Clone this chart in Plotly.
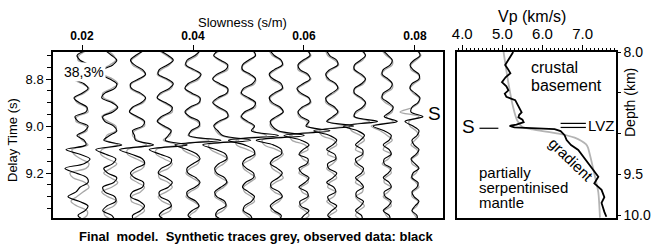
import plotly.graph_objects as go

# ---------------- data ----------------
slowness = [0.02, 0.025, 0.03, 0.035, 0.04, 0.045, 0.05, 0.055, 0.06, 0.065, 0.07, 0.075, 0.08]
delay_time = [8.68, 8.70, 8.72, 8.74, 8.76, 8.78, 8.80, 8.82, 8.84, 8.86, 8.88, 8.90, 8.92,
              8.94, 8.96, 8.98, 9.00, 9.02, 9.04, 9.06, 9.08, 9.10, 9.12, 9.14, 9.16, 9.18,
              9.20, 9.22, 9.24, 9.26, 9.28, 9.30, 9.32, 9.34, 9.36, 9.38, 9.40]

# trace amplitudes (observed = black, synthetic = grey)
observed_amp = [
    [3,-5,-2,6,3,-6,-7,2,6,0,-8,-3,5,4,-7,-4,6,3,-5,2,4,-16,-2,8,2,-17,-6,5,6,-2,-6,-14,-3,6,3,-4,2],
    [-4,2,7,3,-6,-8,0,7,5,-5,-8,2,8,3,-7,-5,4,7,0,-6,12,-14,-4,6,3,-6,-2,7,4,-7,-5,5,6,-3,-7,2,5],
    [6,-2,-7,-3,5,8,1,-7,-6,3,8,4,-5,-8,0,7,5,-5,-3,-2,16,-18,-6,5,7,-2,-7,-3,6,5,-5,-7,2,7,3,-5,-4],
    [-5,3,8,2,-6,-7,2,8,4,-5,-8,0,7,5,-4,-8,-1,6,3,0,22,-16,-5,6,5,-4,-7,1,7,3,-6,-5,4,6,-2,-6,1],
    [7,2,-6,-7,1,8,4,-5,-8,-1,7,6,-3,-8,-3,6,6,-2,-4,28,-18,-6,4,7,0,-6,-5,3,7,2,-6,-5,3,6,-1,-5,2],
    [-3,-7,0,7,5,-4,-8,-1,7,6,-3,-8,-2,6,7,-2,-7,-3,2,30,-18,-5,5,6,-2,-6,-4,4,6,0,-6,-4,4,5,-3,-5,2],
    [5,7,0,-6,-6,2,7,4,-5,-7,0,7,5,-4,-7,-1,6,3,30,-20,-4,5,6,-3,-6,-2,5,5,-3,-6,0,6,3,-4,-5,2,4],
    [-6,-2,5,6,-2,-7,-3,5,6,-2,-7,-4,4,7,0,-6,-4,2,28,-20,-3,5,5,-3,-6,1,6,2,-5,-5,3,6,-1,-6,-2,5,3],
    [4,6,-1,-6,-4,4,6,-1,-7,-3,5,6,-2,-6,-3,5,2,26,-20,-3,5,-1,-5,4,3,-5,-2,5,1,-5,3,4,-4,-3,5,0,-4],
    [-5,-2,5,6,-2,-6,-3,4,6,0,-6,-4,3,6,1,-5,22,-18,-2,5,1,-5,3,4,-4,-3,5,1,-5,2,4,-4,-2,5,0,-4,3],
    [3,6,1,-5,-5,2,6,2,-5,-5,2,6,3,-4,-5,18,-16,-2,5,1,-4,3,3,-4,-2,4,2,-4,1,4,-3,-3,4,1,-4,2,3],
    [-4,1,5,3,-4,-5,1,5,3,-4,-5,1,6,3,-3,10,-14,-3,4,2,-4,2,4,-3,-3,4,1,-4,2,4,-3,-2,4,1,-4,2,3],
    [3,5,-1,-5,-2,4,4,-3,-5,0,5,3,-3,-4,8,-10,-2,4,2,-3,-1,4,1,-4,0,4,-2,-3,3,2,-3,-1,4,0,-3,2,2],
]
synthetic_amp = [
    [4,-3,-4,5,5,-4,-8,0,7,2,-7,-5,4,6,-5,-6,4,5,-3,0,6,-10,-8,-1,7,4,-12,-9,3,7,1,-5,-11,-5,5,5,-2],
    [-2,4,6,0,-7,-6,3,8,2,-7,-6,4,7,0,-8,-2,6,6,-3,-4,8,-8,-9,-2,7,1,-6,1,8,2,-8,-2,7,4,-5,-5,4],
    [5,0,-6,-5,3,8,3,-6,-7,1,8,6,-4,-8,-2,6,7,-3,-5,0,9,-10,-10,-1,7,5,-4,-7,0,7,3,-6,-6,4,7,1,-6],
    [-6,1,7,4,-4,-8,0,7,6,-3,-8,-2,6,7,-2,-7,-3,5,5,-2,12,-9,-9,-1,7,3,-6,-6,3,7,1,-7,-3,6,5,-4,-5],
    [6,4,-4,-8,-1,7,6,-3,-8,-3,6,7,-1,-7,-5,4,7,0,-5,16,-10,-10,-2,6,5,-3,-7,-1,6,5,-3,-7,0,6,3,-3,-4],
    [-1,-7,-2,6,7,-2,-8,-3,6,7,-1,-7,-4,5,8,0,-6,-5,0,18,-12,-10,-1,7,3,-4,-6,0,7,3,-4,-6,1,6,2,-5,-3],
    [4,7,2,-5,-7,0,7,6,-3,-8,-2,6,7,-2,-8,-3,5,5,18,-12,-12,-1,7,3,-5,-5,1,7,1,-5,-4,3,6,-1,-6,-2,5],
    [-7,-4,4,7,0,-6,-5,3,7,0,-6,-6,2,7,2,-5,-6,0,16,-14,-12,0,7,2,-5,-4,3,7,-1,-6,-2,6,3,-4,-5,3,5],
    [3,7,1,-5,-6,2,7,1,-6,-5,4,7,0,-6,-5,3,4,16,-14,-12,1,4,-4,-1,5,-2,-5,3,4,-3,-2,5,1,-5,1,5,-2],
    [-6,-4,3,7,0,-5,-5,3,7,2,-5,-6,1,7,3,-4,12,-12,-10,2,5,-2,-4,5,1,-5,1,5,-2,-4,4,2,-5,1,5,-2,-3],
    [2,6,3,-4,-6,0,6,4,-4,-6,0,6,5,-2,-6,10,-10,-8,1,5,-1,-4,4,1,-5,1,5,-1,-4,3,3,-4,0,5,-1,-4,3],
    [-5,-1,5,5,-2,-6,-1,5,5,-2,-6,-2,5,5,-1,6,-16,-7,0,5,-1,-4,4,1,-5,2,4,-2,-3,4,1,-4,2,4,-3,-1,4],
    [2,6,1,-4,-4,3,5,-1,-5,-2,4,4,-2,-15,4,-6,-5,1,4,0,-4,2,3,-3,-3,3,1,-4,1,4,-2,-3,3,2,-3,0,3],
]

# velocity-depth profiles
obs_depth = [8.00, 8.04, 8.08, 8.12, 8.16, 8.21, 8.26, 8.31, 8.37, 8.42, 8.47, 8.51, 8.55, 8.59,
             8.63, 8.67, 8.71, 8.74, 8.77, 8.80, 8.83, 8.86, 8.89, 8.905, 8.925, 8.945, 8.97,
             9.02, 9.08, 9.14, 9.20, 9.30, 9.42, 9.53, 9.61, 9.69, 9.78, 9.85, 9.96, 10.02]
obs_vp = [5.27, 5.22, 5.18, 5.12, 5.07, 5.14, 5.20, 5.08, 4.99, 5.10, 5.15, 5.06, 5.10, 5.32,
          5.36, 5.40, 5.46, 5.48, 5.42, 5.40, 5.50, 5.53, 5.35, 5.18, 5.30, 6.30, 6.45,
          6.55, 6.60, 6.71, 6.89, 7.04, 7.22, 7.39, 7.29, 7.47, 7.54, 7.47, 7.54, 7.59]
model_depth = [8.00, 8.38, 8.68, 8.84, 8.92, 8.95, 9.00, 9.05, 9.09, 9.13, 9.17, 9.30, 9.47, 9.72, 10.03]
model_vp = [5.03, 5.15, 5.27, 5.37, 5.50, 5.75, 6.40, 6.80, 6.97, 7.08, 7.13, 7.20, 7.28, 7.39, 7.43]

GAIN = 0.02 / 111.0  # trace amplitude unit -> slowness units
W, H = 652, 247
FONT = "Liberation Sans, Arial, Helvetica, sans-serif"


def px(x, y):
    return x / W, 1 - y / H


fig = go.Figure()

for k, s in enumerate(slowness):
    fig.add_trace(go.Scatter(x=[s + GAIN * a for a in synthetic_amp[k]], y=delay_time, mode="lines",
                             line=dict(color="#a8a8a8", width=1.3, shape="spline"),
                             xaxis="x", yaxis="y", showlegend=False, hoverinfo="skip"))
for k, s in enumerate(slowness):
    fig.add_trace(go.Scatter(x=[s + GAIN * a for a in observed_amp[k]], y=delay_time, mode="lines",
                             line=dict(color="black", width=1.15, shape="spline"),
                             xaxis="x", yaxis="y", showlegend=False, hoverinfo="skip"))

fig.add_trace(go.Scatter(x=model_vp, y=model_depth, mode="lines",
                         line=dict(color="#b4b4b4", width=1.8, shape="spline", smoothing=0.6),
                         xaxis="x2", yaxis="y2", showlegend=False, hoverinfo="skip"))
fig.add_trace(go.Scatter(x=obs_vp, y=obs_depth, mode="lines",
                         line=dict(color="black", width=1.8),
                         xaxis="x2", yaxis="y2", showlegend=False, hoverinfo="skip"))

ydom = [1 - 218 / H, 1 - 52 / H]
axis_common = dict(showline=True, linewidth=1.5, linecolor="black", mirror=True,
                   showgrid=False, zeroline=False, ticks="outside", tickcolor="black",
                   tickwidth=1.2)

minor_t = [8.70, 8.75, 8.85, 8.90, 8.95, 9.05, 9.10, 9.15, 9.25, 9.30, 9.35]
minor_v = [round(3.9 + 0.1 * i, 1) for i in range(40)]
minor_v = [v for v in minor_v if abs(v - round(v)) > 1e-6]

fig.update_layout(
    width=W, height=H, margin=dict(l=0, r=0, t=0, b=0, autoexpand=False),
    paper_bgcolor="white", plot_bgcolor="white",
    font=dict(family=FONT, color="black"),
    xaxis=dict(domain=[53 / W, 443 / W], range=[0.01477, 0.08505], side="top", anchor="y",
               tickvals=[0.02, 0.04, 0.06, 0.08],
               ticktext=["<b>0.02</b>", "<b>0.04</b>", "<b>0.06</b>", "<b>0.08</b>"],
               ticklen=5, tickfont=dict(size=12), **axis_common),
    yaxis=dict(domain=ydom, range=[9.391, 8.685], anchor="x",
               tickvals=[8.8, 9.0, 9.2], ticktext=["8.8", "9.0", "9.2"], ticklen=5,
               minor=dict(tickvals=minor_t, ticklen=4, ticks="outside", tickcolor="black"),
               tickfont=dict(size=13), **axis_common),
    xaxis2=dict(domain=[457 / W, 616 / W], range=[3.87, 7.83], side="top", anchor="y2",
                tickvals=[4, 5, 6, 7], ticktext=["4.0", "5.0", "6.0", "7.0"], ticklen=5,
                minor=dict(tickvals=minor_v, ticklen=2.5, ticks="outside", tickcolor="black"),
                tickfont=dict(size=15), **axis_common),
    yaxis2=dict(domain=ydom, range=[10.035, 8.0], anchor="x2", side="right",
                tickvals=[8.0, 8.5, 9.0, 9.5, 10.0], ticktext=["8.0", "", "", "9.5", "10.0"],
                ticklen=3, tickfont=dict(size=14), **axis_common),
)

ann = []


def add_text(text, x, y, size, **kw):
    xp, yp = px(x, y)
    d = dict(text=text, x=xp, y=yp, xref="paper", yref="paper", showarrow=False,
             font=dict(size=size, family=FONT, color="black"), xanchor="center", yanchor="middle")
    d.update(kw)
    ann.append(d)


add_text("Slowness (s/m)", 242, 23, 13)
add_text("Delay Time (s)", 12, 140, 13, textangle=-90)
add_text("38,3%", 84, 72, 14, bgcolor="white", borderpad=1)
add_text("S", 434, 113, 19)
add_text("Vp (km/s)", 532, 17, 16)
add_text("Depth (km)", 630, 103, 14, textangle=-90)
add_text("crustal", 529, 68, 16, xanchor="left")
add_text("basement", 529, 85, 16, xanchor="left")
add_text("S", 468, 126, 19)
add_text("LVZ", 601, 125, 15)
add_text("gradient", 571, 159, 15, textangle=44)
add_text("partially", 477, 172, 15, xanchor="left")
add_text("serpentinised", 477, 187, 15, xanchor="left")
add_text("mantle", 477, 202, 15, xanchor="left")
add_text("<b>Final&nbsp; model.&nbsp; Synthetic traces grey, observed data: black</b>", 256, 236, 13)
fig.update_layout(annotations=ann)

# annotation lines in the velocity panel
fig.add_shape(type="line", xref="x2", yref="y2", x0=4.43, x1=4.90, y0=8.935, y1=8.935,
              line=dict(color="black", width=1.2))
fig.add_shape(type="line", xref="x2", yref="y2", x0=6.45, x1=7.08, y0=8.875, y1=8.875,
              line=dict(color="black", width=1.2))
fig.add_shape(type="line", xref="x2", yref="y2", x0=6.45, x1=7.08, y0=8.925, y1=8.925,
              line=dict(color="black", width=1.2))

fig.write_html("out.html", config={"displayModeBar": False},
               post_script="document.body.style.margin='0';document.body.style.overflow='hidden';")
